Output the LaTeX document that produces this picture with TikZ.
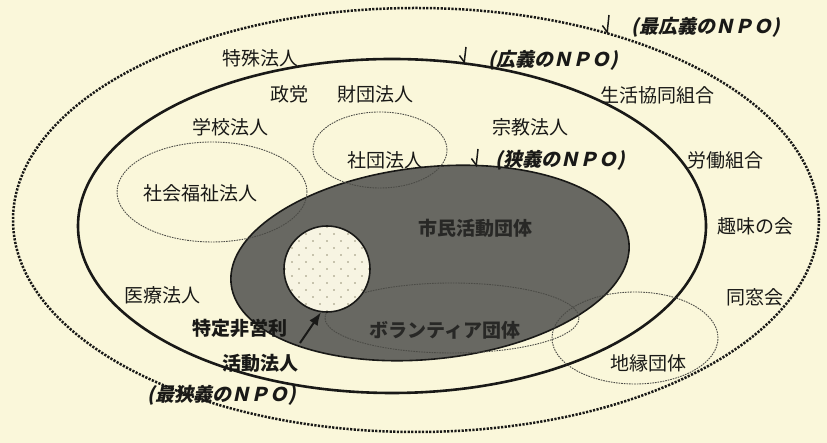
\documentclass[tikz,border=0pt]{standalone}
\usepackage{fontspec}
\usetikzlibrary{arrows.meta}
\newfontfamily\jp{Noto Sans CJK JP}
\newfontfamily\jpit[FakeSlant=0.22]{Noto Sans CJK JP}
\definecolor{paper}{RGB}{250,247,218}
\definecolor{pale}{RGB}{247,244,226}
\definecolor{ink}{RGB}{25,25,23}
\definecolor{shade}{RGB}{104,104,98}
\definecolor{shadetext}{RGB}{40,40,38}
\definecolor{dotc}{RGB}{150,145,120}
\definecolor{thin}{RGB}{75,75,70}
\begin{document}
\begin{tikzpicture}[x=1pt,y=1pt]
	\tikzset{lab/.style = {font=\jp\fontsize{19}{21}\selectfont, text=ink, inner sep=1pt}}
	\tikzset{boldlab/.style = {font=\jp\bfseries\fontsize{19}{21}\selectfont, text=ink, inner sep=1pt}}
	\tikzset{darklab/.style = {font=\jp\bfseries\fontsize{19}{21}\selectfont, text=shadetext, inner sep=1pt}}
	\tikzset{npolab/.style = {font=\jpit\bfseries\fontsize{19}{21}\selectfont, text=ink, inner sep=1pt}}
	\tikzset{subset/.style = {draw=thin, dash pattern=on 1.6pt off 1pt, line width=0.9pt}}
	\tikzset{pointer/.style = {-{Straight Barb[harpoon,swap,length=6pt,width=11pt,line width=1.5pt]}, line width=1.5pt, draw=ink}}
	% paper
	\fill[paper] (0,0) rectangle (827,443);
	\useasboundingbox (0,0) rectangle (827,443);
	% regions
	\draw[ink, line width=2.5pt, dash pattern=on 2.2pt off 1.4pt] (416,223) ellipse [x radius=403, y radius=212];
	\draw[ink, line width=2.6pt] (392,217) ellipse [x radius=314, y radius=167];
	\filldraw[fill=shade, draw=ink, line width=1.6pt, rotate around={6:(430,180)}] (430,180) ellipse [x radius=200, y radius=96];
	\draw[subset] (212,251) ellipse [x radius=95, y radius=50];
	\draw[subset] (380,293) ellipse [x radius=67, y radius=38];
	\draw[subset] (452,125) ellipse [x radius=127, y radius=35];
	\draw[subset] (635,105) ellipse [x radius=83, y radius=46];
	\node[circle, draw=ink, line width=1.6pt, fill=pale, minimum size=86pt, inner sep=0pt,
		path picture={
			\foreach \r in {-6,...,6}
				\foreach \c in {-4,...,4}
					\fill[dotc, shift={(path picture bounding box.center)}] ({\c*14+mod(\r,2)*7},{\r*7}) circle (0.9pt);
		}] (npo) at (327,174) {};
	% labels
	\node[lab] (tokushu) at (260,385) {特殊法人};
	\node[lab] (seito) at (289,349) {政党};
	\node[lab] (zaidan) at (375,349) {財団法人};
	\node[lab] (gakko) at (230,316) {学校法人};
	\node[lab] (fukushi) at (200,250) {社会福祉法人};
	\node[lab] (shadan) at (385,283) {社団法人};
	\node[lab] (shukyo) at (530,316) {宗教法人};
	\node[lab] (seikyo) at (657,348) {生活協同組合};
	\node[lab] (rodo) at (725,283) {労働組合};
	\node[lab] (shumi) at (755,217) {趣味の会};
	\node[lab] (doso) at (755,146) {同窓会};
	\node[lab] (chien) at (648,80) {地縁団体};
	\node[lab] (iryo) at (162,148) {医療法人};
	\node[boldlab] (tokutei) at (240,115) {特定非営利};
	\node[boldlab] (katsudo) at (260,80) {活動法人};
	\node[darklab] (shimin) at (475,215) {市民活動団体};
	\node[darklab] (volunteer) at (445,113) {ボランティア団体};
	\node[npolab] (widest) at (706,416) {(最広義のＮＰＯ)};
	\node[npolab] (wide) at (553,383) {(広義のＮＰＯ)};
	\node[npolab] (narrow) at (560,283) {(狭義のＮＰＯ)};
	\node[npolab] (narrowest) at (222,48) {(最狭義のＮＰＯ)};
	% pointers
	\coordinate (widestTop) at (609,428);
	\coordinate (widestTip) at (607,409);
	\coordinate (wideTop) at (466,396);
	\coordinate (wideTip) at (464,379);
	\coordinate (narrowTop) at (478,294);
	\coordinate (narrowTip) at (476,276);
	\coordinate (tokuteiTail) at (300,100);
	\draw[pointer] (widestTop) -- (widestTip);
	\draw[pointer] (wideTop) -- (wideTip);
	\draw[pointer] (narrowTop) -- (narrowTip);
	\draw[-{Latex[length=13pt,width=10pt]}, line width=2pt, ink] (tokuteiTail) -- (npo.-98);
\end{tikzpicture}
\end{document}
